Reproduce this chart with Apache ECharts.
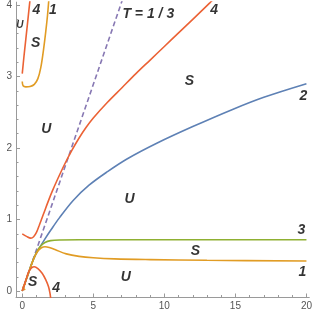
<!DOCTYPE html>
<html>
<head>
<meta charset="utf-8">
<script src="https://cdn.jsdelivr.net/npm/echarts@6/dist/echarts.min.js"></script>
<style>html,body{margin:0;padding:0;background:#fff}#c{width:315px;height:316px}</style>
</head>
<body>
<div id="c"></div>
<script>
// Tick values
const xMajor = [0, 5, 10, 15, 20];
const xMinor = [1,2,3,4,6,7,8,9,11,12,13,14,16,17,18,19];
const yMajor = [0, 1, 2, 3, 4];
const yMinor = [0.2,0.4,0.6,0.8,1.2,1.4,1.6,1.8,2.2,2.4,2.6,2.8,3.2,3.4,3.6,3.8];

// Curves
const lineT = [[0,0],[7.2,4.16]];
const curve2 = [[0,0],[0.4,0.23],[0.8,0.45],[1.2,0.6],[1.6,0.73],[2,0.85],[2.6,1.02],[3.6,1.27],[4.7,1.48],[6,1.67],[7.4,1.85],[9.5,2.07],[12,2.3],[14.8,2.54],[17,2.71],[20,2.9]];
const curve3 = [[0,0],[0.4,0.23],[0.8,0.45],[1.05,0.56],[1.3,0.63],[1.6,0.68],[2,0.705],[2.6,0.715],[4,0.718],[8,0.718],[20,0.718]];
const curve1 = [[0,0],[0.4,0.23],[0.8,0.45],[1.1,0.56],[1.35,0.605],[1.6,0.62],[1.9,0.61],[2.3,0.58],[3.1,0.52],[4,0.485],[5,0.465],[6.5,0.45],[9,0.44],[13,0.43],[20,0.42]];
const curve1Tip = [[0.22,0.1],[0.05,0.05],[0.2,0.015]];
const curve1Top = [[0,2.93],[0.06,2.87],[0.25,2.855],[0.55,2.86],[0.85,2.89],[1.1,2.97],[1.3,3.12],[1.5,3.38],[1.65,3.62],[1.78,3.86],[1.88,4.1]];
const curve4Top = [[0,3.04],[0.12,3.28],[0.25,3.52],[0.4,3.8],[0.56,4.1]];
const curve4Mid = [[0,0.8],[0.3,0.765],[0.6,0.74],[0.8,0.76],[1.0,0.82],[1.2,0.92],[1.5,1.08],[1.8,1.24],[2.1,1.39],[2.5,1.57],[3.0,1.78],[3.5,1.97],[4.0,2.14],[4.5,2.29],[5,2.42],[6,2.64],[7,2.84],[8,3.04],[9,3.23],[10,3.42],[11,3.61],[12,3.8],[13.2,4.03],[13.5,4.09]];
const curve4Low = [[0,0],[0.25,0.15],[0.45,0.27],[0.65,0.325],[0.85,0.34],[1.1,0.315],[1.4,0.25],[1.65,0.16],[1.85,0.06],[1.95,-0.03],[2.0,-0.1]];

// Annotations [x, y, text]
const labelsBig = [
  [1.0,3.93,'4'],[2.15,3.93,'1'],[0.94,3.46,'S'],[8.87,3.875,'T = 1 / 3'],
  [13.5,3.93,'4'],[11.77,2.93,'S'],[19.78,2.72,'2'],[1.7,2.26,'U'],
  [7.56,1.28,'U'],[19.64,0.85,'3'],[12.19,0.56,'S'],[19.71,0.26,'1'],
  [7.29,0.19,'U'],[0.73,0.125,'S'],[2.39,0.04,'4']
];
const labelsSmall = [[-0.17,3.72,'U']];

const C_BLUE='#5E81B5', C_ORANGE='#E19C24', C_GREEN='#8FB032', C_RED='#EB6235', C_PURPLE='#8778B3';
const AX='#9a9a9a';

function ln(data,color,extra){
  return Object.assign({type:'line',data:data,symbol:'none',smooth:0.35,
    lineStyle:{color:color,width:1.6},silent:true,animation:false,clip:true},extra||{});
}
function lab(data,size){
  return {type:'scatter',data:data,symbolSize:0,silent:true,animation:false,clip:false,z:10,
    label:{show:true,position:'inside',formatter:p=>p.data[2],color:'#000',
      fontFamily:'Liberation Sans',fontStyle:'italic',fontWeight:'bold',fontSize:size}};
}

const chart = echarts.init(document.getElementById('c'),null,{renderer:'canvas'});
chart.setOption({
  animation:false,
  grid:{left:16,right:0,top:0,bottom:18.5,containLabel:false},
  xAxis:[
    {type:'value',min:-0.44,max:20.2,
      axisLine:{show:true,onZero:false,lineStyle:{color:AX,width:1}},
      axisTick:{show:true,inside:true,length:4,customValues:xMajor,lineStyle:{color:AX}},
      axisLabel:{customValues:xMajor,color:'#555',fontSize:10,margin:4,fontFamily:'Liberation Sans'},
      splitLine:{show:false}},
    {type:'value',min:-0.44,max:20.2,position:'bottom',
      axisLine:{show:false,onZero:false},
      axisTick:{show:true,inside:true,length:2.5,customValues:xMinor,lineStyle:{color:AX}},
      axisLabel:{show:false},splitLine:{show:false}}
  ],
  yAxis:[
    {type:'value',min:-0.09,max:4.04,
      axisLine:{show:true,onZero:false,lineStyle:{color:AX,width:1}},
      axisTick:{show:true,inside:true,length:4,customValues:yMajor,lineStyle:{color:AX}},
      axisLabel:{customValues:yMajor,color:'#555',fontSize:10,margin:4,fontFamily:'Liberation Sans'},
      splitLine:{show:false}},
    {type:'value',min:-0.09,max:4.04,position:'left',
      axisLine:{show:false,onZero:false},
      axisTick:{show:true,inside:true,length:2.5,customValues:yMinor,lineStyle:{color:AX}},
      axisLabel:{show:false},splitLine:{show:false}}
  ],
  series:[
    ln(lineT,C_PURPLE,{smooth:false,lineStyle:{color:C_PURPLE,width:1.6,type:[5,3]}}),
    ln(curve2,C_BLUE),
    ln(curve3,C_GREEN),
    ln(curve1,C_ORANGE),
    ln(curve1Tip,C_ORANGE,{smooth:false}),
    ln(curve1Top,C_ORANGE),
    ln(curve4Top,C_RED),
    ln(curve4Mid,C_RED),
    ln(curve4Low,C_RED),
    lab(labelsBig,14),
    lab(labelsSmall,10)
  ]
});
</script>
</body>
</html>
